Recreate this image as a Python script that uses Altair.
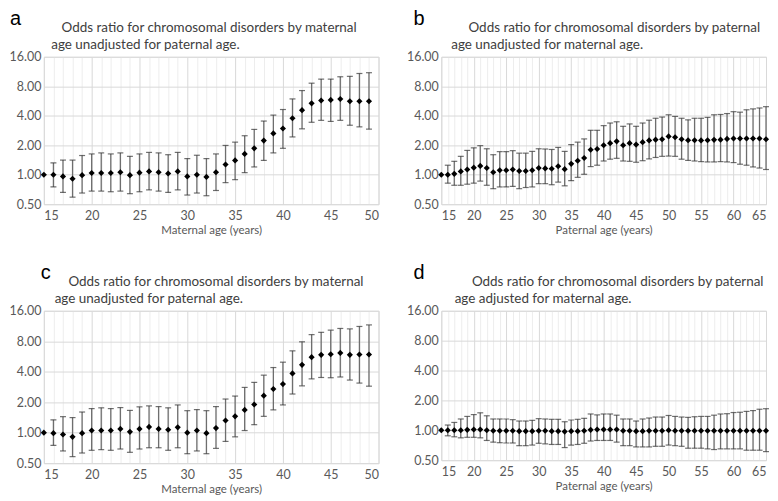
import altair as alt
import pandas as pd

# ---------------- data ----------------
mat_age = list(range(15, 50))
pat_age = list(range(15, 66))

a_or = [1.00,1.00,0.96,0.91,0.99,1.04,1.04,1.04,1.06,0.99,1.05,1.08,1.06,1.03,1.08,0.96,1.00,0.95,1.06,1.27,
        1.40,1.63,1.86,2.23,2.64,2.96,3.77,4.56,5.35,5.72,5.80,5.93,5.63,5.63,5.63]
a_lo = [None,0.75,0.66,0.59,0.65,0.68,0.68,0.67,0.68,0.64,0.67,0.70,0.68,0.66,0.70,0.62,0.65,0.61,0.69,0.83,
        0.89,1.05,1.20,1.40,1.67,1.86,2.43,2.94,3.43,3.59,3.50,3.59,3.20,3.08,2.92]
a_hi = [None,1.32,1.41,1.41,1.57,1.63,1.67,1.63,1.67,1.54,1.63,1.69,1.67,1.60,1.69,1.46,1.58,1.46,1.63,1.99,
        2.15,2.50,2.90,3.53,4.06,4.63,5.94,7.23,8.60,9.46,9.46,10.0,10.1,10.8,11.0]

c_or = [1.00,0.99,0.96,0.91,0.99,1.05,1.05,1.05,1.09,1.02,1.09,1.14,1.09,1.07,1.13,1.00,1.05,0.99,1.11,1.32,
        1.45,1.68,1.90,2.32,2.70,3.02,3.85,4.68,5.57,5.87,5.96,6.14,5.87,5.92,5.92]
c_lo = [None,0.75,0.66,0.58,0.63,0.67,0.68,0.67,0.69,0.64,0.69,0.71,0.71,0.67,0.71,0.62,0.66,0.62,0.70,0.82,
        0.91,1.05,1.20,1.45,1.68,1.88,2.41,2.90,3.40,3.51,3.49,3.55,3.31,3.09,2.88]
c_hi = [None,1.34,1.44,1.41,1.60,1.73,1.76,1.73,1.77,1.66,1.80,1.84,1.81,1.76,1.88,1.65,1.69,1.65,1.81,2.15,
        2.30,2.80,3.14,3.70,4.40,4.97,6.43,7.90,9.30,9.80,10.3,10.7,10.6,11.2,11.6]

b_or = [1.00,1.00,1.02,1.08,1.13,1.18,1.23,1.17,1.06,1.11,
        1.11,1.13,1.09,1.09,1.11,1.17,1.16,1.15,1.22,1.14,
        1.29,1.39,1.48,1.80,1.83,2.00,2.10,2.19,2.00,2.10,
        2.03,2.15,2.24,2.28,2.30,2.46,2.41,2.30,2.25,2.25,
        2.24,2.25,2.27,2.28,2.32,2.34,2.34,2.34,2.34,2.34,2.30]
b_lo = [None,0.82,0.78,0.78,0.80,0.82,0.86,0.78,0.72,0.75,
        0.75,0.76,0.72,0.74,0.75,0.81,0.81,0.79,0.84,0.77,
        0.87,0.94,1.01,1.21,1.25,1.38,1.44,1.47,1.38,1.37,
        1.34,1.39,1.45,1.50,1.54,1.55,1.54,1.44,1.40,1.38,
        1.36,1.35,1.35,1.36,1.35,1.33,1.28,1.25,1.20,1.17,1.13]
b_hi = [None,1.25,1.37,1.54,1.77,1.88,1.98,1.84,1.60,1.72,
        1.72,1.76,1.66,1.66,1.73,1.84,1.83,1.81,1.90,1.73,
        2.03,2.15,2.32,2.84,2.84,3.17,3.37,3.47,3.12,3.30,
        3.12,3.37,3.60,3.77,3.88,4.09,3.94,3.77,3.63,3.77,
        3.77,3.85,4.09,4.12,4.21,4.40,4.35,4.60,4.70,4.80,4.95]

d_or = [1.00,1.00,1.00,1.00,1.01,1.02,1.02,1.00,0.99,0.99,
        0.99,0.99,0.98,0.98,0.98,0.99,0.99,0.98,0.98,0.97,
        0.98,0.98,0.99,1.01,1.02,1.02,1.02,1.02,0.99,0.99,
        0.98,0.98,0.99,0.99,0.99,1.00,0.99,0.99,0.99,0.99,
        0.99,0.99,0.99,0.99,0.99,0.99,0.99,0.99,0.99,0.99,0.99]
d_lo = [None,0.88,0.86,0.84,0.85,0.85,0.84,0.79,0.76,0.75,
        0.745,0.745,0.70,0.70,0.71,0.74,0.73,0.72,0.72,0.67,
        0.71,0.72,0.74,0.78,0.79,0.79,0.79,0.76,0.70,0.70,
        0.68,0.68,0.68,0.69,0.69,0.71,0.70,0.69,0.66,0.66,
        0.66,0.65,0.64,0.65,0.65,0.65,0.65,0.63,0.63,0.63,0.61]
d_hi = [None,1.13,1.20,1.30,1.38,1.44,1.50,1.40,1.30,1.30,
        1.30,1.28,1.24,1.24,1.26,1.31,1.30,1.29,1.29,1.22,
        1.27,1.29,1.32,1.46,1.43,1.46,1.46,1.42,1.30,1.30,
        1.24,1.30,1.33,1.36,1.36,1.41,1.38,1.36,1.35,1.37,
        1.38,1.38,1.42,1.46,1.47,1.51,1.52,1.55,1.58,1.63,1.65]

y_ticks = [0.5, 1, 2, 4, 8, 16]

FONT = "Lato"
NB = "\u00a0"
ZW = "\u200b"   # keeps the leading no-break spaces from being trimmed
NB_W = 3.5      # approx. width of a no-break space at the subtitle size


def pad(px):
    return ZW + NB * max(0, int(round(px / NB_W)))


def panel(ages, orv, lo, hi, letter, lines, xtitle, xmax, w, h, ldx, ind1, ind2):
    df = pd.DataFrame({"age": ages, "or": orv, "lo": lo, "hi": hi})
    base = alt.Chart(df)
    xs = alt.Scale(domain=[15, xmax], nice=False, zero=False)
    ys = alt.Scale(type="log", domain=[0.5, 16], nice=False)
    yaxis = alt.Axis(values=y_ticks, format=".2f", grid=True, gridColor="#d9d9d9",
                     ticks=False, domain=False, labelFont=FONT, labelFontSize=12.5,
                     labelColor="#595959", labelPadding=3, title=None)
    minor = [v for v in range(15, xmax + 1) if v % 5]
    major = list(range(15, xmax + 1, 5))

    rules = base.mark_rule(color="#6e6e6e", strokeWidth=1.3).encode(
        x=alt.X("age:Q", scale=xs,
                axis=alt.Axis(orient="top", values=minor, labels=False, ticks=False,
                              domain=False, grid=True, gridColor="#ededed", title=None)),
        y=alt.Y("lo:Q", scale=ys, axis=yaxis),
        y2="hi:Q",
    )
    cap_lo = base.mark_tick(color="#333333", orient="horizontal", size=6, thickness=1.2).encode(
        x=alt.X("age:Q", scale=xs, axis=None),
        y=alt.Y("lo:Q", scale=ys, axis=yaxis),
    )
    cap_hi = base.mark_tick(color="#333333", orient="horizontal", size=6, thickness=1.2).encode(
        x=alt.X("age:Q", scale=xs, axis=None),
        y=alt.Y("hi:Q", scale=ys, axis=yaxis),
    )
    pts = base.mark_point(shape="diamond", filled=True, color="black", size=38, opacity=1).encode(
        x=alt.X("age:Q", scale=xs,
                axis=alt.Axis(orient="bottom", values=major, grid=True, gridColor="#d9d9d9",
                              ticks=False, domain=False, labelFont=FONT, labelFontSize=12.5,
                              labelColor="#595959", labelPadding=5, title=xtitle,
                              titleFont=FONT, titleFontSize=11.5, titleFontWeight="normal",
                              titleColor="#595959", titlePadding=3)),
        y=alt.Y("or:Q", scale=ys, axis=yaxis),
    )

    title = alt.TitleParams(
        text=letter, anchor="start", frame="group", dx=ldx,
        font="Liberation Sans", fontSize=20, fontWeight="normal", color="black",
        subtitle=[pad(ind1 - ldx) + lines[0], pad(ind2 - ldx) + lines[1]],
        subtitleFont=FONT, subtitleFontSize=13.5, subtitleColor="#404040",
        subtitleLineHeight=17, subtitlePadding=-8, offset=-1,
    )
    return alt.layer(rules, cap_lo, cap_hi, pts).resolve_axis(x="independent").properties(
        width=w, height=h, title=title
    )


pa = panel(mat_age, a_or, a_lo, a_hi, "a",
           ["Odds ratio for chromosomal disorders by maternal", "age unadjusted for paternal age."],
           "Maternal age (years)", 50, 336, 148, -34, 20, 7)
pb = panel(pat_age, b_or, b_lo, b_hi, "b",
           ["Odds ratio for chromosomal disorders by paternal", "age unadjusted for maternal age."],
           "Paternal age (years)", 65, 326, 148, -28, 27, 12)
pc = panel(mat_age, c_or, c_lo, c_hi, "c",
           ["Odds ratio for chromosomal disorders by maternal", "age unadjusted for paternal age."],
           "Maternal age (years)", 50, 336, 153, -3, 25, 12)
pd_ = panel(pat_age, d_or, d_lo, d_hi, "d",
            ["Odds ratio for chromosomal disorders by paternal", "age adjusted for maternal age."],
            "Paternal age (years)", 65, 326, 150, -28, 30, 14)

chart = alt.vconcat(
    alt.hconcat(pa, pb, spacing=26),
    alt.hconcat(pc, pd_, spacing=26),
    spacing=26,
).properties(padding=0).configure_view(stroke=None).configure(background="white")

chart.save("out.html", embed_options={"renderer": "svg", "actions": False})
